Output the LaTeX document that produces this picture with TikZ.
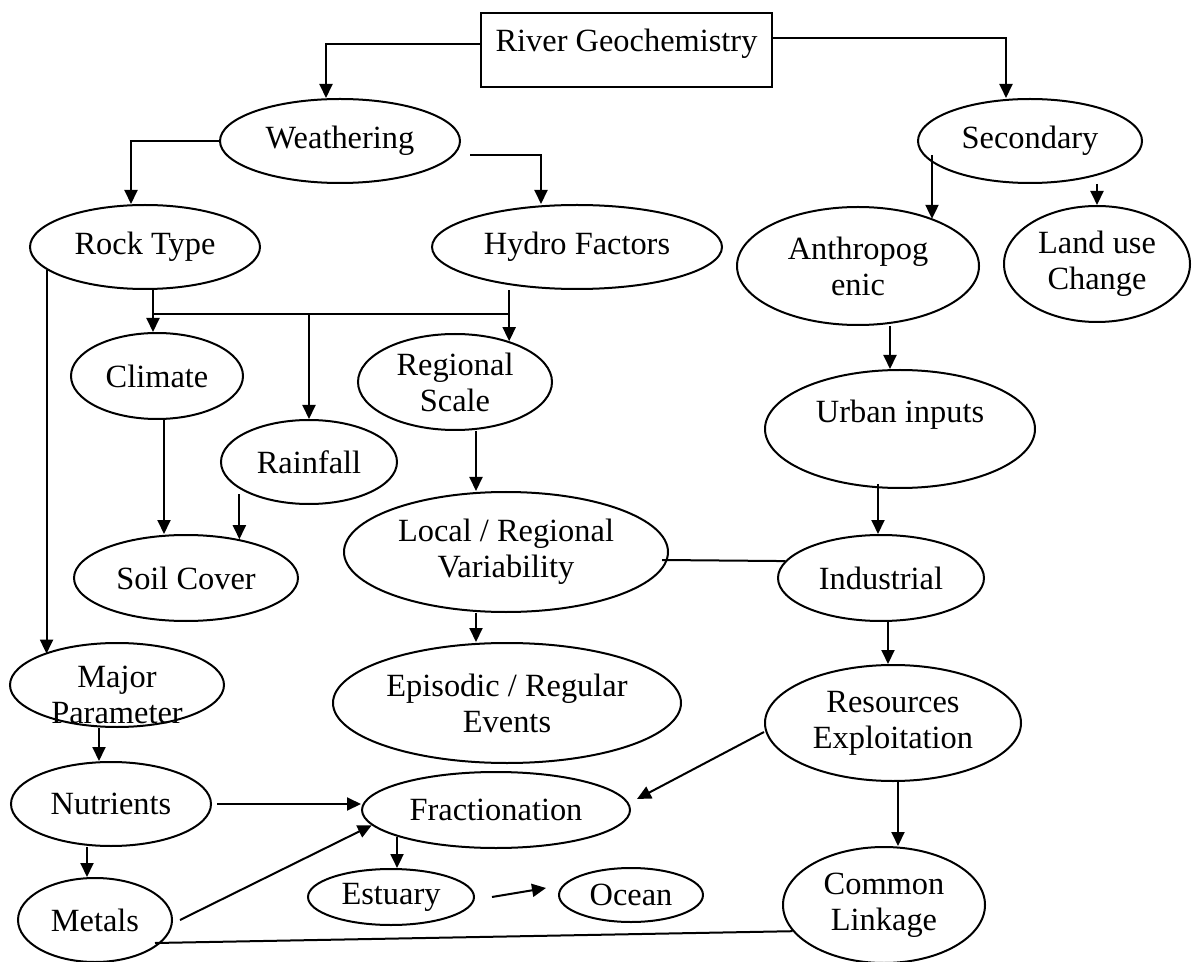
\documentclass[tikz,border=0pt]{standalone}
\usepackage{fontspec}
\setmainfont{Liberation Serif}
\usetikzlibrary{shapes,arrows.meta}

\begin{document}
\begin{tikzpicture}[->,>={Triangle[width=6.5pt,length=7pt]},x=0.5pt,y=-0.5pt,line width=1pt,
  font=\fontsize{16.2}{18}\selectfont,
  oval/.style 2 args={draw,ellipse,inner sep=0pt,minimum width=#1pt,minimum height=#2pt},
  topbox/.style={draw,rectangle,inner sep=0pt,minimum width=145.5pt,minimum height=37pt}]
\useasboundingbox (0,0) rectangle (1194,962);

\node[topbox](geo) at (626.5,50){\raisebox{-1pt}[0pt][0pt]{River Geochemistry}};
\node[oval={120}{42}](weath) at (340,141){Weathering};
\node[oval={112}{42}](sec) at (1030,141){Secondary};
\node[oval={115}{42}](rock) at (145,247){Rock Type};
\node[oval={145}{42}](hydro) at (577,247){Hydro Factors};
\node[oval={121}{59},align=center](anth) at (858,266){Anthropog\\enic};
\node[oval={93}{58},align=center](land) at (1097,264){Land use\\Change};
\node[oval={86}{43}](clim) at (157,376){Climate};
\node[oval={97}{48},align=center](reg) at (455,382){Regional\\Scale};
\node[oval={88}{42}](rain) at (309,462){Rainfall};
\node[oval={135}{59}](urb) at (900,429){\raisebox{3pt}[0pt][0pt]{Urban inputs}};
\node[oval={112}{43}](soil) at (186,578){Soil Cover};
\node[oval={162}{60},align=center](loc) at (506,552){Local / Regional\\Variability};
\node[oval={103}{43}](ind) at (881,578){Industrial};
\node[oval={107}{42}](maj) at (117,685){\raisebox{-11pt}[0pt][0pt]{\begin{tabular}{@{}c@{}}Major\\Parameter\end{tabular}}};
\node[oval={174}{60},align=center](epi) at (507,703){Episodic / Regular\\Events};
\node[oval={128}{58},align=center](res) at (893,723){Resources\\Exploitation};
\node[oval={100}{42}](nut) at (111,804){Nutrients};
\node[oval={134}{38}](frac) at (496,810){Fractionation};
\node[oval={83}{28}](est) at (391,897){\raisebox{-2pt}{Estuary}};
\node[oval={72}{27}](oce) at (631,895){\raisebox{-2pt}{Ocean}};
\node[oval={77}{42}](met) at (95,920){Metals};
\node[oval={101}{58},align=center](com) at (884,905){Common\\Linkage};

\coordinate (sa) at ([shift={(-98,14)}]sec.center);
\coordinate (jl) at ([shift={(8,24)}]rock.south);
\coordinate (jr) at (jl -| reg.37);
\coordinate (cs) at ([shift={(7,0)}]clim.south);
\coordinate (rs) at ([shift={(0,-11)}]rain.south);
\coordinate (rl) at ([shift={(21,0)}]reg.south);
\coordinate (le) at ([shift={(-30,0)}]loc.south);
\coordinate (mn) at ([shift={(-18,0)}]maj.south);
\coordinate (nm) at ([shift={(-24,0)}]nut.south);
\coordinate (au) at ([shift={(32,0)}]anth.south);
\coordinate (ui) at ([shift={(-22,-5)}]urb.south);
\coordinate (ir) at ([shift={(7,0)}]ind.south);
\coordinate (rc) at ([shift={(5,0)}]res.south);

\draw ([shift={(0,-6)}]geo.west) -| ([shift={(-14,0)}]weath.north);
\draw ([shift={(0,-12)}]geo.east) -| ([shift={(-24,0)}]sec.north);
\draw (weath.west) -| ([shift={(-14,0)}]rock.north);
\draw ([shift={(9,14)}]weath.east) -| ([shift={(-36,0)}]hydro.north);
\draw (sa) -- (sa |- anth.32); \draw (sec.south -| land.north) -- (land.north);

\draw[-] (rock.south -| jl) -- (jl) -- (jr) -- (jr |- hydro.south);
\draw (jl) -- (jl |- clim.north); \draw (jl -| rain.north) -- (rain.north);
\draw (jr) -- (reg.37);
\draw (cs) -- (cs |- soil.north); \draw (soil.36 |- rs) -- (soil.36);
\draw (rl) -- (rl |- loc.north); \draw (le) -- (le |- epi.north);
\draw (rock.193) -- (rock.193 |- maj.157);
\draw (mn) -- (mn |- nut.north); \draw (nm) -- (nm |- met.north);
\draw ([shift={(5,0)}]nut.east) -- (nut.east -| frac.west);
\draw ([shift={(7,0)}]met.east) -- (frac.187);
\draw (frac.195) -- (frac.195 |- est.north);
\draw ([shift={(17,0)}]est.east) -- ([shift={(-12,-7)}]oce.west);

\draw (au) -- (au |- urb.north); \draw (ui) -- (ui |- ind.north);
\draw[-] ([shift={(-7,8)}]loc.east) -- (ind.170);
\draw (ir) -- (ir |- res.north);
\draw ([shift={(0,9)}]res.west) -- ([shift={(6,-11)}]frac.east);
\draw (rc) -- (rc |- com.north);
\draw[-] ([shift={(60,23)}]met.center) -- (com.196);

\end{tikzpicture}
\end{document}
